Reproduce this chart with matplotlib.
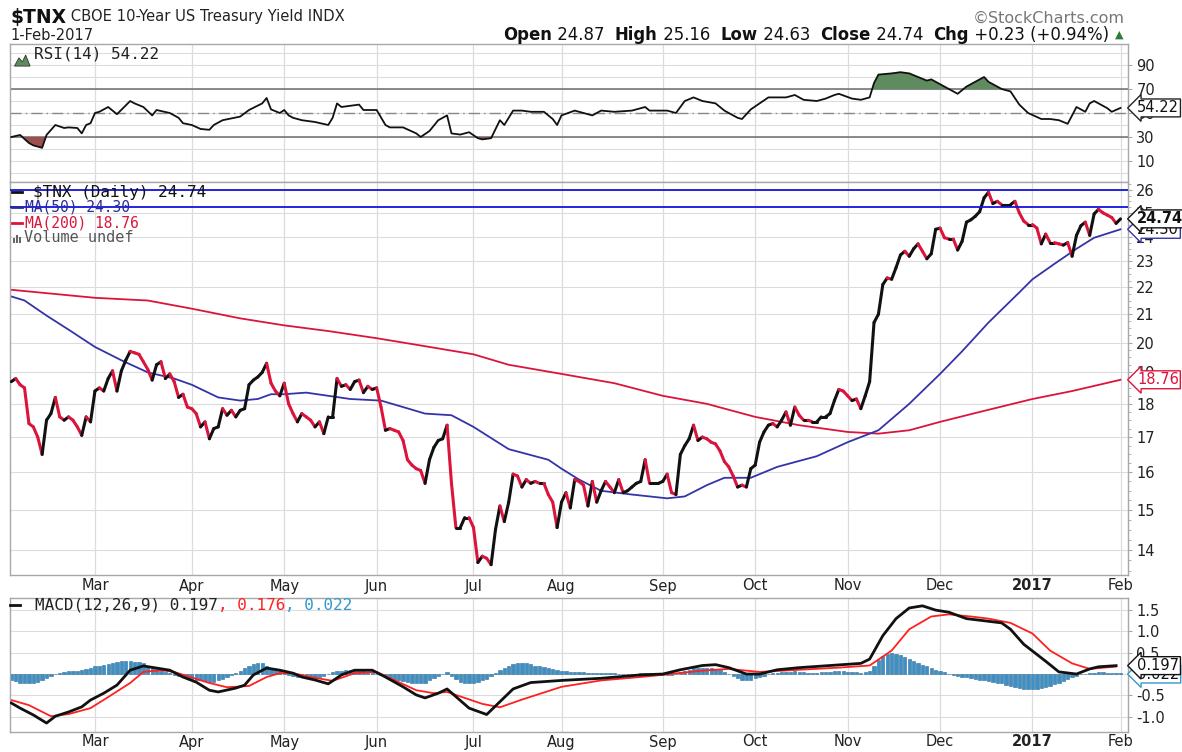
import numpy as np
import pandas as pd
import matplotlib
matplotlib.use("Agg")
import matplotlib.pyplot as plt
from matplotlib.collections import LineCollection
from matplotlib.patches import Polygon, Rectangle

W, H = 1182, 752

# trading calendar (NYSE holidays removed)
holidays = ["2016-02-15", "2016-03-25", "2016-05-30", "2016-07-04", "2016-09-05",
            "2016-11-24", "2016-12-26", "2017-01-02", "2017-01-16"]
sessions = pd.bdate_range("2016-02-02", "2017-02-01", freq="C", holidays=holidays)

# daily close of $TNX, one value per session
close = [18.7, 18.8, 18.6, 18.5, 17.4, 17.3, 17.0, 16.5, 17.5, 17.7,
         18.2, 17.6, 17.5, 17.6, 17.5, 17.3, 17.05, 17.6, 17.45, 18.4,
         18.5, 18.4, 18.8, 19.05, 18.4, 19.05, 19.4, 19.7, 19.65, 19.6,
         19.35, 19.1, 18.75, 19.25, 19.35, 18.8, 18.95, 18.7, 18.2, 18.3,
         17.9, 17.85, 17.7, 17.3, 17.45, 16.95, 17.25, 17.3, 17.85, 17.65,
         17.8, 17.6, 17.8, 17.85, 18.6, 18.75, 18.85, 19.0, 19.3, 18.65,
         18.4, 18.25, 18.65, 18.0, 17.7, 17.45, 17.7, 17.6, 17.5, 17.3,
         17.45, 17.1, 17.6, 17.6, 18.8, 18.55, 18.6, 18.45, 18.7, 18.75,
         18.35, 18.55, 18.45, 18.5, 17.9, 17.2, 17.25, 17.2, 17.15, 16.9,
         16.35, 16.2, 16.1, 16.05, 15.7, 16.35, 16.7, 16.9, 16.95, 17.35,
         15.7, 14.55, 14.55, 14.8, 14.8, 14.55, 13.7, 13.85, 13.8, 13.65,
         14.5, 15.1, 14.7, 15.2, 15.95, 15.9, 15.6, 15.8, 15.7, 15.75,
         15.7, 15.7, 15.4, 15.2, 14.55, 15.2, 15.45, 15.05, 15.8, 15.75,
         15.65, 15.1, 15.75, 15.2, 15.5, 15.75, 15.6, 15.45, 15.8, 15.45,
         15.5, 15.6, 15.7, 15.75, 16.35, 15.7, 15.7, 15.7, 15.75, 15.95,
         15.45, 15.4, 16.5, 16.75, 16.95, 17.35, 16.9, 17.0, 16.95, 16.85,
         16.8, 16.6, 16.3, 16.15, 15.9, 15.6, 15.65, 15.6, 16.1, 16.2,
         16.85, 17.15, 17.35, 17.4, 17.3, 17.5, 17.75, 17.35, 17.9, 17.65,
         17.5, 17.5, 17.45, 17.45, 17.6, 17.6, 17.7, 18.1, 18.45, 18.4,
         18.25, 18.1, 18.15, 17.85, 18.25, 18.7, 20.7, 21.0, 22.1, 22.35,
         22.3, 22.75, 23.25, 23.4, 23.2, 23.5, 23.7, 23.4, 23.1, 23.3,
         24.3, 24.35, 23.95, 23.9, 23.9, 23.45, 23.8, 24.6, 24.7, 24.85,
         25.05, 25.65, 25.9, 25.4, 25.5, 25.35, 25.35, 25.35, 25.5, 25.0,
         24.65, 24.5, 24.5, 24.35, 23.7, 24.1, 23.75, 23.75, 23.7, 23.65,
         23.75, 23.2, 24.05, 24.45, 24.6, 24.05, 24.95, 25.15, 25.0, 24.9,
         24.8, 24.55, 24.74]

# moving averages, read at session numbers
ma50_day = [0, 3, 8, 13, 19, 25, 31, 37, 41, 47, 52, 56, 59, 62, 67, 72, 77, 84, 89, 94,
            100, 105, 113, 122, 125, 129, 134, 141, 145, 149, 153, 158, 162, 168, 174, 183,
            190, 197, 204, 211, 216, 222, 229, 232, 237, 242, 246, 252]
ma50 = [21.65, 21.5, 20.95, 20.45, 19.85, 19.4, 19.0, 18.8, 18.6, 18.2, 18.1, 18.15, 18.3,
        18.3, 18.35, 18.25, 18.15, 18.1, 17.9, 17.7, 17.65, 17.3, 16.65, 16.35, 16.1, 15.8,
        15.5, 15.4, 15.35, 15.3, 15.35, 15.65, 15.85, 15.85, 16.15, 16.45, 16.85, 17.2,
        18.0, 18.95, 19.7, 20.7, 21.8, 22.3, 22.9, 23.5, 23.95, 24.3]
ma200_day = [0, 19, 31, 41, 52, 62, 72, 83, 93, 105, 113, 125, 137, 148, 158, 169, 179,
             190, 197, 204, 211, 220, 232, 241, 252]
ma200 = [21.9, 21.6, 21.5, 21.2, 20.85, 20.6, 20.4, 20.15, 19.9, 19.6, 19.25, 18.95, 18.65,
         18.25, 18.0, 17.6, 17.35, 17.15, 17.1, 17.2, 17.45, 17.75, 18.15, 18.4, 18.76]

# RSI(14)
rsi_day = [0, 2, 4, 5, 7, 8, 10, 12, 13, 15, 16, 17, 18, 19, 20, 22, 24, 27, 28, 30, 32, 33,
           36, 38, 39, 41, 43, 45, 46, 48, 52, 54, 57, 58, 59, 61, 62, 63, 64, 66, 69, 72,
           73, 74, 75, 79, 80, 83, 85, 86, 89, 92, 93, 95, 97, 99, 100, 102, 104, 106, 107,
           109, 111, 112, 114, 116, 118, 121, 123, 124, 125, 128, 132, 134, 137, 141, 144,
           145, 149, 151, 153, 155, 157, 160, 162, 165, 166, 168, 170, 172, 176, 178, 180,
           183, 185, 187, 188, 191, 193, 195, 196, 197, 200, 202, 204, 206, 208, 209, 211,
           213, 215, 217, 219, 221, 222, 225, 227, 229, 231, 234, 236, 238, 240, 241, 242,
           244, 245, 246, 248, 249, 250, 252]
rsi = [30, 31.7, 25, 23, 21, 31.7, 40, 37.5, 38, 37.5, 33, 40, 41.5, 50, 51, 55, 49, 60, 58,
       55, 48, 52.5, 50, 46, 41.5, 40, 36.7, 36, 40, 44, 47, 52.5, 58, 62.5, 53, 50, 52.5,
       48, 46, 44, 42.5, 40, 46, 58, 55, 57, 52.5, 52.5, 40, 38, 38, 33, 30, 35, 44, 48, 33,
       32, 34, 29, 28, 29, 44, 40, 52, 52, 51, 51, 45, 40, 48, 52, 48, 52, 51, 52, 55, 52,
       52, 50, 60, 63, 60, 58, 52, 46, 45, 53, 58, 63, 63, 65, 61, 60, 62, 65, 66, 62, 61,
       63, 75, 82, 83, 84, 83, 80, 77, 78, 74, 70, 66, 72, 76, 80, 76, 70, 68, 57, 50, 45,
       45, 44, 41, 48, 55, 51, 58, 60, 56, 54, 51, 54.22]

# MACD(12,26,9)
macd_day = [0, 2, 5, 8, 10, 13, 16, 18, 21, 24, 27, 30, 33, 36, 39, 42, 45, 47, 51, 53, 55,
            58, 61, 64, 66, 69, 72, 75, 78, 82, 85, 89, 92, 94, 97, 99, 104, 108, 114, 118,
            125, 134, 143, 148, 152, 157, 160, 163, 167, 170, 174, 179, 186, 193, 195, 198,
            201, 204, 207, 210, 213, 217, 221, 225, 227, 230, 235, 238, 242, 245, 247, 251]
macd = [-0.68, -0.8, -0.96, -1.15, -0.99, -0.89, -0.77, -0.61, -0.45, -0.26, 0.09, 0.19,
        0.14, 0.09, -0.07, -0.19, -0.38, -0.42, -0.33, -0.26, -0.02, 0.14, 0.09, 0.02,
        -0.07, -0.14, -0.23, -0.02, 0.09, 0.09, -0.07, -0.3, -0.49, -0.56, -0.45, -0.35,
        -0.8, -0.95, -0.35, -0.2, -0.15, -0.1, -0.02, 0.0, 0.1, 0.2, 0.22, 0.15, 0.0, 0.0,
        0.1, 0.15, 0.2, 0.25, 0.35, 0.9, 1.3, 1.55, 1.6, 1.5, 1.45, 1.3, 1.25, 1.2, 1.05,
        0.7, 0.3, 0.05, 0.0, 0.12, 0.17, 0.197]
signal_day = [0, 4, 9, 13, 18, 22, 27, 30, 34, 37, 40, 45, 49, 54, 58, 61, 64, 68, 73, 78,
              83, 87, 92, 96, 99, 107, 111, 116, 125, 134, 145, 157, 163, 170, 179, 188, 195,
              200, 204, 209, 213, 218, 222, 227, 232, 236, 241, 245, 251]
signal = [-0.61, -0.73, -0.99, -0.94, -0.8, -0.54, -0.21, 0.05, 0.09, 0.05, -0.05, -0.21,
          -0.31, -0.28, -0.07, 0.02, 0.02, -0.07, -0.16, 0.02, 0.05, -0.14, -0.38, -0.45,
          -0.42, -0.7, -0.78, -0.6, -0.3, -0.15, -0.05, 0.08, 0.12, 0.05, 0.1, 0.15, 0.2,
          0.55, 1.05, 1.35, 1.4, 1.35, 1.3, 1.2, 0.95, 0.55, 0.25, 0.12, 0.176]
hist = [-0.15, -0.17, -0.2, -0.22, -0.22, -0.2, -0.18, -0.15, -0.1, -0.05,
        0.0, 0.03, 0.05, 0.06, 0.07, 0.08, 0.1, 0.12, 0.15, 0.18,
        0.2, 0.22, 0.24, 0.26, 0.28, 0.3, 0.3, 0.3, 0.29, 0.28,
        0.25, 0.2, 0.16, 0.12, 0.08, 0.05, 0.02, -0.02, -0.05, -0.08,
        -0.1, -0.12, -0.14, -0.15, -0.17, -0.18, -0.18, -0.15, -0.12, -0.08,
        -0.03, 0.02, 0.08, 0.14, 0.2, 0.24, 0.26, 0.25, 0.2, 0.14,
        0.1, 0.06, 0.02, -0.02, -0.05, -0.07, -0.08, -0.09, -0.1, -0.09,
        -0.07, -0.04, 0.0, 0.04, 0.06, 0.08, 0.09, 0.1, 0.09, 0.08,
        0.06, 0.05, 0.03, 0.0, -0.03, -0.06, -0.1, -0.13, -0.15, -0.17,
        -0.19, -0.2, -0.21, -0.22, -0.2, -0.15, -0.1, -0.05, 0.0, 0.05,
        -0.05, -0.12, -0.18, -0.2, -0.2, -0.2, -0.18, -0.15, -0.12, -0.05,
        0.02, 0.1, 0.15, 0.2, 0.24, 0.26, 0.26, 0.25, 0.23, 0.2,
        0.18, 0.16, 0.14, 0.12, 0.1, 0.08, 0.06, 0.05, 0.05, 0.04,
        0.04, 0.03, 0.03, 0.02, 0.03, 0.03, 0.02, 0.02, 0.01, 0.0,
        0.0, 0.0, 0.01, 0.02, 0.03, 0.02, 0.0, -0.02, -0.03, -0.03,
        -0.02, 0.0, 0.05, 0.08, 0.1, 0.13, 0.14, 0.15, 0.14, 0.13,
        0.11, 0.09, 0.05, 0.0, -0.05, -0.1, -0.13, -0.14, -0.13, -0.1,
        -0.07, -0.04, 0.0, 0.02, 0.03, 0.04, 0.05, 0.05, 0.06, 0.05,
        0.04, 0.03, 0.03, 0.03, 0.04, 0.05, 0.05, 0.06, 0.07, 0.06,
        0.05, 0.04, 0.04, 0.03, 0.05, 0.08, 0.2, 0.32, 0.42, 0.48,
        0.5, 0.48, 0.45, 0.4, 0.35, 0.3, 0.26, 0.22, 0.18, 0.14,
        0.1, 0.07, 0.04, 0.0, -0.03, -0.05, -0.07, -0.08, -0.1, -0.12,
        -0.14, -0.15, -0.17, -0.18, -0.2, -0.22, -0.25, -0.28, -0.3, -0.32,
        -0.34, -0.35, -0.35, -0.34, -0.33, -0.31, -0.28, -0.24, -0.2, -0.16,
        -0.12, -0.08, -0.04, -0.01, 0.01, 0.02, 0.03, 0.04, 0.04, 0.03,
        0.03, 0.02, 0.022]

price_ticks = [14, 15, 16, 17, 18, 19, 20, 21, 22, 23, 24, 25, 26]
rsi_ticks = [10, 30, 50, 70, 90]
macd_ticks = [-1.0, -0.5, 0.5, 1.0, 1.5]
hlines_blue = [26.0, 25.25]

# ---------------------------------------------------------------
x = np.arange(len(sessions))
close = np.array(close)
months = sessions.to_period("M")
month_pos = [i for i in range(1, len(sessions)) if months[i] != months[i - 1]]
month_lab = [("2017" if sessions[i].month == 1 else sessions[i].strftime("%b")) for i in month_pos]

GRID = "#dcdcdc"
SPINE = "#a8a8a8"
CRIMSON = "#dc143c"
MONO = "DejaVu Sans Mono"
plt.rcParams["font.family"] = ["DejaVu Sans"]

fig = plt.figure(figsize=(W / 100, H / 100), dpi=100)


def px_axes(x0, y0, x1, y1):
    return fig.add_axes([x0 / W, 1 - y1 / H, (x1 - x0) / W, (y1 - y0) / H])


def ftext(xp, yp, s, **kw):
    return fig.text(xp / W, 1 - yp / H, s, **kw)


ax_rsi = px_axes(10, 44, 1128, 182)
ax_p = px_axes(10, 182, 1128, 575)
ax_m = px_axes(10, 598, 1128, 732)

for ax in (ax_rsi, ax_p, ax_m):
    ax.set_xlim(-0.3, 253.7)
    ax.set_xticks([])
    for sp in ax.spines.values():
        sp.set_color(SPINE)
        sp.set_linewidth(1.0)
    for m in month_pos:
        ax.axvline(m, color=GRID, lw=0.9, zorder=0)
    ax.yaxis.tick_right()
    ax.tick_params(axis="y", which="major", length=3, color=SPINE, labelsize=10.5,
                   labelcolor="#222222", pad=3)

# ---- RSI panel
ax_rsi.set_ylim(-7.5, 107.5)
for v in range(0, 101, 10):
    ax_rsi.axhline(v, color=GRID, lw=0.8, zorder=0)
ax_rsi.axhline(70, color="#777777", lw=1.2, zorder=1)
ax_rsi.axhline(30, color="#777777", lw=1.2, zorder=1)
ax_rsi.axhline(50, color="#888888", lw=1.0, ls=(0, (8, 3, 1, 3)), zorder=1)
rsi_d = np.array(rsi_day, dtype=float)
rsi_v = np.array(rsi, dtype=float)
ax_rsi.fill_between(rsi_d, 70, rsi_v, where=rsi_v > 70, interpolate=True,
                    color="#5e8c5e", lw=0, zorder=2)
ax_rsi.fill_between(rsi_d, 30, rsi_v, where=rsi_v < 30, interpolate=True,
                    color="#9c4f4f", lw=0, zorder=2)
ax_rsi.plot(rsi_d, rsi_v, color="#111111", lw=1.3, zorder=3)
ax_rsi.set_yticks(rsi_ticks)
ax_rsi.set_yticklabels([str(t) for t in rsi_ticks])
ftext(34, 54, "RSI(14) 54.22", fontsize=11.5, family=MONO, va="center", ha="left",
      color="#222222")
ax_rsi.add_patch(Polygon([[0.004, 0.84], [0.008, 0.90], [0.011, 0.87], [0.014, 0.92],
                          [0.018, 0.84]], closed=True, transform=ax_rsi.transAxes,
                         fc="#5e8c5e", ec="#333333", lw=0.6))

# ---- price panel
ax_p.set_yscale("log")
ax_p.set_ylim(13.41, 26.36)
ax_p.set_yticks(price_ticks)
ax_p.set_yticklabels([str(t) for t in price_ticks])
ax_p.yaxis.set_minor_locator(matplotlib.ticker.FixedLocator(np.arange(13.5, 26.4, 0.25)))
ax_p.yaxis.set_minor_formatter(matplotlib.ticker.NullFormatter())
ax_p.tick_params(axis="y", which="minor", length=2, color=SPINE)
for v in price_ticks:
    ax_p.axhline(v, color=GRID, lw=0.8, zorder=0)
for v in hlines_blue:
    ax_p.axhline(v, color="#1414dc", lw=1.3, zorder=4)
ax_p.plot(ma200_day, ma200, color=CRIMSON, lw=1.3, zorder=2)
ax_p.plot(ma50_day, ma50, color="#3434a8", lw=1.3, zorder=2)
pts = np.column_stack([x, close])
segs = np.stack([pts[:-1], pts[1:]], axis=1)
seg_col = ["#111111" if d >= 0 else CRIMSON for d in np.diff(close)]
ax_p.add_collection(LineCollection(segs, colors=seg_col, linewidths=2.2,
                                   capstyle="round", joinstyle="round", zorder=3))

leg = [("$TNX (Daily) 24.74", "#111111", 192), ("MA(50) 24.30", "#2a2aa0", 207),
       ("MA(200) 18.76", CRIMSON, 223)]
for s, c, yp in leg:
    fig.add_artist(plt.Line2D([12 / W, 22 / W], [1 - yp / H, 1 - yp / H], color=c, lw=2))
    ftext(33 if c == "#111111" else 25, yp, s, color=c, fontsize=11.5 if c == "#111111" else 10.5,
          family=MONO, va="center", ha="left")
for k, h in enumerate([5, 8, 6]):
    fig.add_artist(Rectangle(((13 + 3 * k) / W, 1 - 243 / H), 2 / W, h / H,
                             color="#666666", lw=0))
ftext(24, 238, "Volume undef", color="#555555", fontsize=11, family=MONO, va="center",
      ha="left")

# ---- MACD panel
ax_m.set_ylim(-1.36, 1.784)
for v in [-1.0, -0.5, 0.0, 0.5, 1.0, 1.5]:
    ax_m.axhline(v, color=GRID, lw=0.8, zorder=0)
ax_m.bar(x, hist, width=0.75, color="#3d8fc4", edgecolor="#2c6f9c", lw=0.4, zorder=1)
ax_m.plot(signal_day, signal, color="#ff2020", lw=1.3, zorder=2)
ax_m.plot(macd_day, macd, color="#111111", lw=2.0, zorder=3)
ax_m.set_yticks(macd_ticks)
ax_m.set_yticklabels([f"{t:.1f}" for t in macd_ticks])

fig.add_artist(plt.Line2D([10 / W, 20 / W], [1 - 605 / H, 1 - 605 / H], color="#111111", lw=2))
t1 = ftext(35, 605, "MACD(12,26,9) 0.197", color="#222222", fontsize=11.5, family=MONO,
           va="center")
t2 = ax_m.annotate(", 0.176", xy=(1, 0.5), xycoords=t1, va="center", ha="left",
                   color="#ff2020", fontsize=11.5, family=MONO)
ax_m.annotate(", 0.022", xy=(1, 0.5), xycoords=t2, va="center", ha="left",
              color="#3399cc", fontsize=11.5, family=MONO)


# ---- value tags on the right
def tag(ax, yv, s, ec, bold=False, tc="#111111"):
    ax.text(1.0 + 9 / 1118, yv, s, transform=ax.get_yaxis_transform(), ha="left",
            va="center", fontsize=10.5, color=tc,
            fontweight="bold" if bold else "normal", zorder=10, clip_on=False,
            bbox=dict(boxstyle="larrow,pad=0.1", fc="white", ec=ec, lw=1.0))


tag(ax_rsi, 54.22, "54.22", "#222222")
tag(ax_p, 24.30, "24.30", "#3434a8")
tag(ax_p, 24.74, "24.74", "#111111", bold=True)
tag(ax_p, 18.76, "18.76", CRIMSON, tc=CRIMSON)
tag(ax_m, 0.0, "0.022", "#3399cc")
tag(ax_m, 0.197, "0.197", "#111111")

# ---- month labels
for m, lab in zip(month_pos, month_lab):
    xp = 10 + (m + 0.3) / 254.0 * 1118
    for yp in (586, 742):
        ftext(xp, yp, lab, ha="center", va="center", fontsize=10.5, color="#222222",
              fontweight="bold" if lab == "2017" else "normal")

# ---- header
h1 = ftext(10, 17, "$TNX", fontsize=13.5, fontweight="bold", va="center", color="#111111")
ax_rsi.annotate(" CBOE 10-Year US Treasury Yield INDX", xy=(1, 0.5), xycoords=h1,
                va="center", ha="left", fontsize=10.6, color="#222222")
ftext(10, 35, "1-Feb-2017", fontsize=10.5, va="center", color="#222222")
ftext(1125, 18, "\u00a9StockCharts.com", fontsize=11.5, va="center", ha="right",
      color="#777777")
parts = [("Open", True), (" 24.87  ", False), ("High", True), (" 25.16  ", False),
         ("Low", True), (" 24.63  ", False), ("Close", True), (" 24.74  ", False),
         ("Chg", True), (" +0.23 (+0.94%) ", False)]
prev = ftext(503, 35, parts[0][0], fontsize=11.9, fontweight="bold", va="center",
             color="#111111")
for s, b in parts[1:]:
    prev = ax_rsi.annotate(s, xy=(1, 0.5), xycoords=prev, va="center", ha="left",
                           fontsize=11.9, fontweight="bold" if b else "normal",
                           color="#111111")
ax_rsi.annotate("\u25b2", xy=(1, 0.5), xycoords=prev, va="center", ha="left",
                fontsize=8, color="#2e7d32")

fig.savefig("out.png", dpi=100, facecolor="white")
